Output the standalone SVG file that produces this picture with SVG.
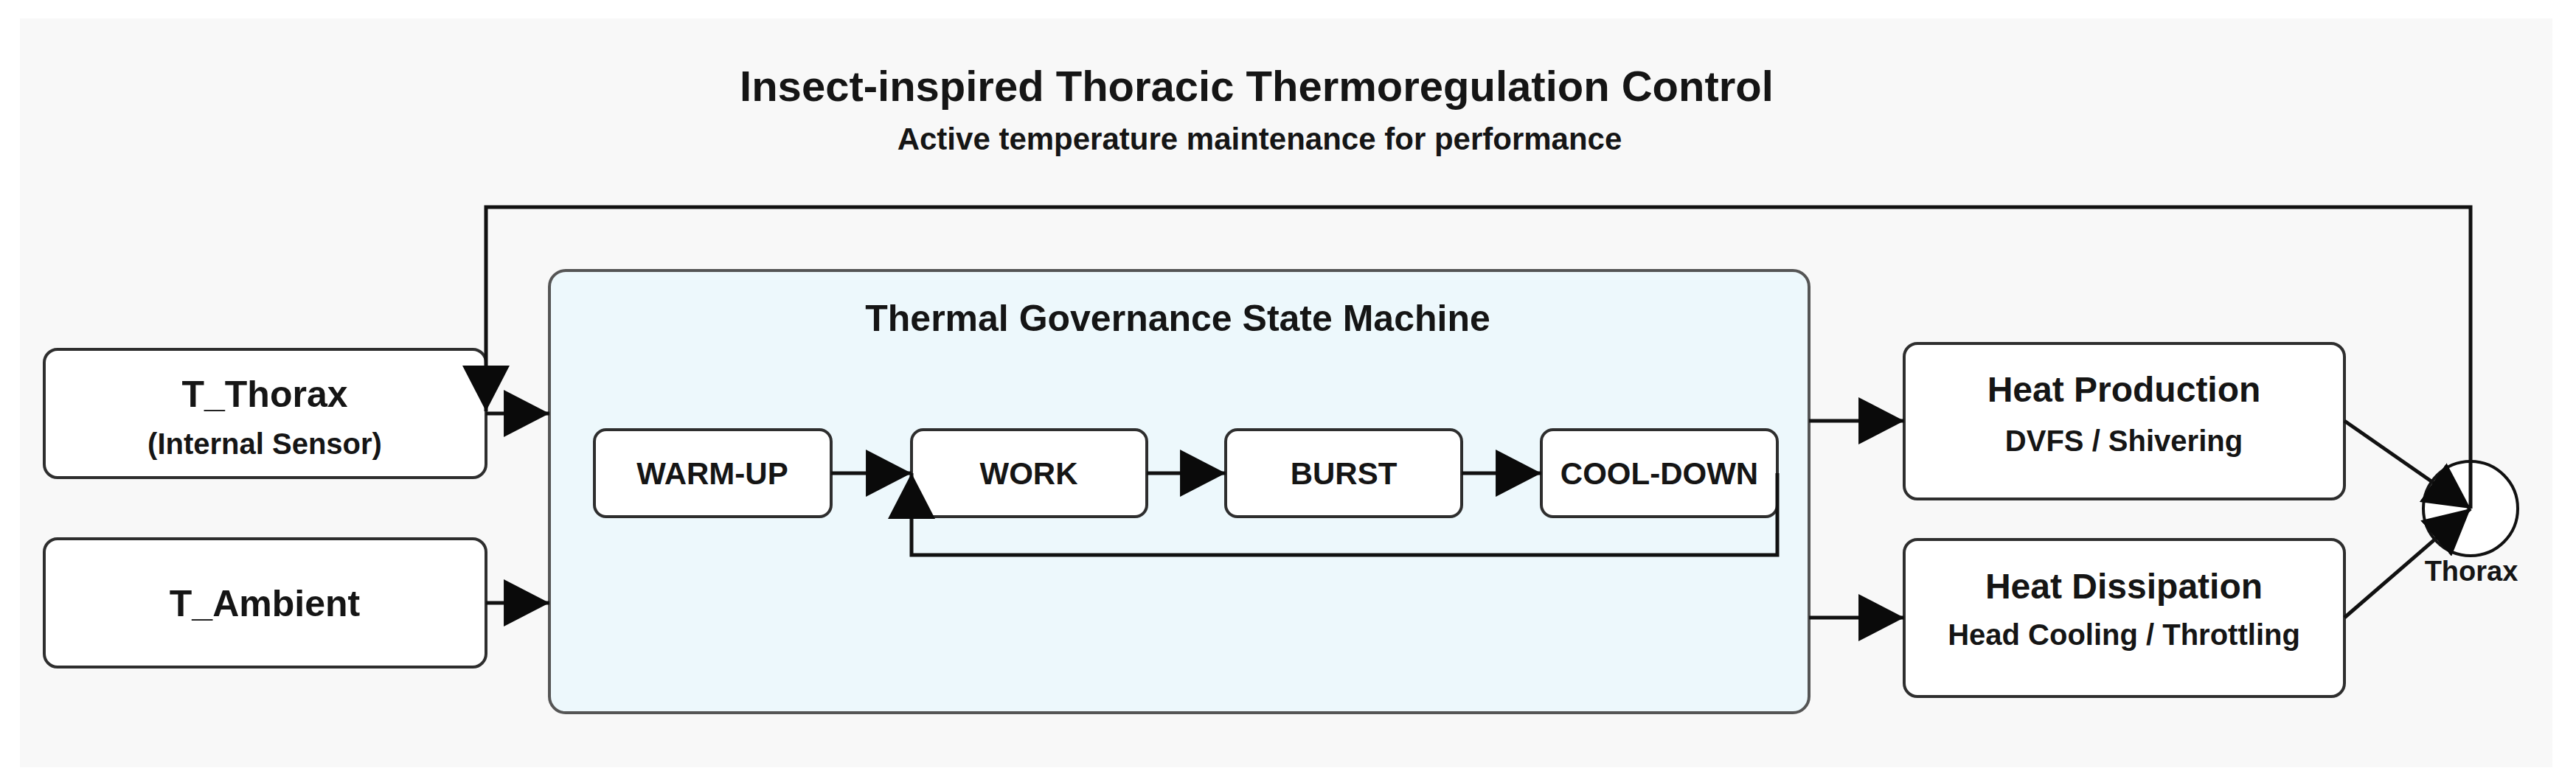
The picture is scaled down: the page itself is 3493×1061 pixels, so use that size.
<svg xmlns="http://www.w3.org/2000/svg" width="3493" height="1061" viewBox="0 0 3493 1061">
  <style>
    text { font-family: "Liberation Sans", Arial, sans-serif; font-weight: bold; fill: #151515; text-anchor: middle; }
    .node { fill: #ffffff; stroke: #2e2e2e; stroke-width: 4; }
    .cluster { fill: #edf8fc; stroke: #555555; stroke-width: 4; }
    .edge { fill: none; stroke: #111111; stroke-width: 5; }
    .t50 { font-size: 50px; }
    .t48 { font-size: 48px; }
    .t42 { font-size: 42px; }
    .t40 { font-size: 40px; }
  </style>
  <defs>
    <marker id="arrow" markerUnits="userSpaceOnUse" markerWidth="62" markerHeight="64" viewBox="0 0 60 62" refX="60" refY="31" orient="auto">
      <path d="M0,0 L60,31 L0,62 Z" fill="#0a0a0a"/>
    </marker>
  </defs>

  <rect x="0" y="0" width="3493" height="1061" fill="#ffffff"/>
  <rect x="27" y="25" width="3434" height="1016" fill="#f8f8f8"/>

  <g id="title">
    <text x="1704" y="137" style="font-size:58px">Insect-inspired Thoracic Thermoregulation Control</text>
    <text x="1708" y="203" class="t42">Active temperature maintenance for performance</text>
  </g>

  <g id="cluster-state-machine">
    <rect class="cluster" x="745" y="367" width="1708" height="600" rx="22"/>
    <text x="1597" y="449" class="t50">Thermal Governance State Machine</text>
  </g>

  <g id="node-t-thorax">
    <rect class="node" x="60" y="474" width="599" height="174" rx="18"/>
    <text x="359" y="552" class="t50">T_Thorax</text>
    <text x="359" y="616" class="t40">(Internal Sensor)</text>
  </g>

  <g id="node-t-ambient">
    <rect class="node" x="60" y="731" width="599" height="174" rx="18"/>
    <text x="359" y="836" class="t50">T_Ambient</text>
  </g>

  <g id="node-warm-up">
    <rect class="node" x="806" y="583" width="321" height="118" rx="16"/>
    <text x="966" y="657" class="t42">WARM-UP</text>
  </g>
  <g id="node-work">
    <rect class="node" x="1236" y="583" width="319" height="118" rx="16"/>
    <text x="1395" y="657" class="t42">WORK</text>
  </g>
  <g id="node-burst">
    <rect class="node" x="1662" y="583" width="320" height="118" rx="16"/>
    <text x="1822" y="657" class="t42">BURST</text>
  </g>
  <g id="node-cool-down">
    <rect class="node" x="2090" y="583" width="320" height="118" rx="16"/>
    <text x="2250" y="657" class="t42">COOL-DOWN</text>
  </g>

  <g id="node-heat-production">
    <rect class="node" x="2582" y="466" width="597" height="211" rx="18"/>
    <text x="2880" y="545" class="t48">Heat Production</text>
    <text x="2880" y="612" class="t40">DVFS / Shivering</text>
  </g>
  <g id="node-heat-dissipation">
    <rect class="node" x="2582" y="732" width="597" height="213" rx="18"/>
    <text x="2880" y="812" class="t48">Heat Dissipation</text>
    <text x="2880" y="875" class="t40">Head Cooling / Throttling</text>
  </g>

  <g id="node-thorax">
    <circle cx="3350" cy="690" r="64" fill="#ffffff" stroke="#111111" stroke-width="4"/>
    <text x="3351" y="788" style="font-size:38px">Thorax</text>
  </g>

  <g id="connectors">
    <path class="edge" d="M659,561 L745,561" marker-end="url(#arrow)"/>
    <path class="edge" d="M659,818 L745,818" marker-end="url(#arrow)"/>
    <path class="edge" d="M2453,571 L2582,571" marker-end="url(#arrow)"/>
    <path class="edge" d="M2453,838 L2582,838" marker-end="url(#arrow)"/>
    <path class="edge" d="M1127,642 L1236,642" marker-end="url(#arrow)"/>
    <path class="edge" d="M1555,642 L1662,642" marker-end="url(#arrow)"/>
    <path class="edge" d="M1982,642 L2090,642" marker-end="url(#arrow)"/>
    <path class="edge" d="M2410,642 L2410,753 L1236,753 L1236,642" marker-end="url(#arrow)"/>
    <path class="edge" d="M3179,571 L3350,690" marker-end="url(#arrow)"/>
    <path class="edge" d="M3179,838 L3350,690" marker-end="url(#arrow)"/>
    <path class="edge" d="M3350,690 L3350,281 L659,281 L659,558" marker-end="url(#arrow)"/>
  </g>
</svg>
